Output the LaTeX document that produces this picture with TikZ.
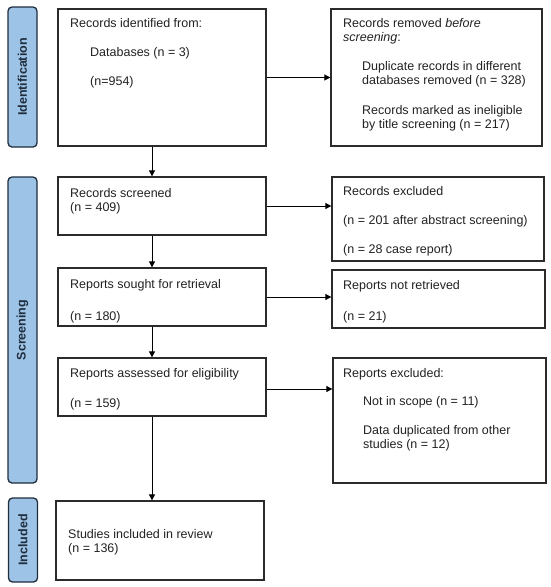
\documentclass[tikz,border=0pt]{standalone}
\usepackage{fontspec}
\setmainfont{Liberation Sans}
\usetikzlibrary{arrows.meta}
\definecolor{barfill}{HTML}{9DC3E6}
\definecolor{barline}{HTML}{1F2D3D}
\definecolor{boxline}{HTML}{2B2B2B}
\definecolor{txtcol}{HTML}{222222}
\begin{document}
\begin{tikzpicture}[x=1pt,y=-1pt,
  box/.style={draw=boxline,line width=1.3pt,fill=white,inner sep=0pt,text=txtcol},
  bar/.style={draw=barline,fill=barfill,line width=1.3pt,rounded corners=4pt,inner sep=0pt,minimum width=29pt},
  bartxt/.style={rotate=90,font=\fontsize{12.5}{14}\selectfont\bfseries,text=barline,inner sep=0pt},
  txt/.style={anchor=base west,inner sep=0pt,font=\fontsize{12.5}{14}\selectfont,text=txtcol},
  arr/.style={draw=black,line width=0.8pt,-{Triangle[length=6pt,width=6pt]}}]
\useasboundingbox (0,0) rectangle (550,587);
% phase bars
\node[bar,minimum height=140pt] (bid) at (22.5,77) {};
\node[bartxt] (tid) at (bid.center) {Identification};
\node[bar,minimum height=306pt] (bsc) at (22.5,330) {};
\node[bartxt] (tsc) at (bsc.center) {Screening};
\node[bar,minimum height=84pt] (bin) at (23,540) {};
\node[bartxt] (tin) at (bin.center) {Included};
% left boxes
\node[box,minimum width=208pt,minimum height=137pt] (id) at (162,77.5) {};
\node[txt] (t1) at (70,27.5) {Records identified from:};
\node[txt] (t2) at (90,56.5) {Databases (n = 3)};
\node[txt] (t3) at (90,85.5) {(n=954)};
\node[box,minimum width=208pt,minimum height=58pt] (scr) at (162,206) {};
\node[txt] (t4) at (70,197.5) {Records screened};
\node[txt] (t5) at (70,211.5) {(n = 409)};
\node[box,minimum width=208pt,minimum height=58pt] (sou) at (162,297) {};
\node[txt] (t6) at (70,288.5) {Reports sought for retrieval};
\node[txt] (t7) at (70,320.5) {(n = 180)};
\node[box,minimum width=208pt,minimum height=58pt] (ass) at (162,387) {};
\node[txt] (t8) at (70,377.5) {Reports assessed for eligibility};
\node[txt] (t9) at (70,407.5) {(n = 159)};
\node[box,minimum width=208pt,minimum height=79pt] (inc) at (160,540.5) {};
\node[txt] (t10) at (68,538.5) {Studies included in review};
\node[txt] (t11) at (68,552.5) {(n = 136)};
% right boxes
\node[box,minimum width=211pt,minimum height=137pt] (rem) at (436.5,77.5) {};
\node[txt] (r1) at (343,27.5) {Records removed \textit{before}};
\node[txt] (r2) at (343,41.5) {\textit{screening}:};
\node[txt] (r3) at (362,70.5) {Duplicate records in different};
\node[txt] (r4) at (362,84.5) {databases removed (n = 328)};
\node[txt] (r5) at (362,114.5) {Records marked as ineligible};
\node[txt] (r6) at (362,128.5) {by title screening (n = 217)};
\node[box,minimum width=212pt,minimum height=84pt] (exc) at (438,219) {};
\node[txt] (r7) at (343,195.5) {Records excluded};
\node[txt] (r8) at (343,224.5) {(n = 201 after abstract screening)};
\node[txt] (r9) at (343,253.5) {(n = 28 case report)};
\node[box,minimum width=213pt,minimum height=58pt] (nret) at (438.5,299) {};
\node[txt] (r10) at (343,289.5) {Reports not retrieved};
\node[txt] (r11) at (343,320.5) {(n = 21)};
\node[box,minimum width=213pt,minimum height=125pt] (rexc) at (439.5,420.5) {};
\node[txt] (r12) at (343,377.5) {Reports excluded:};
\node[txt] (r13) at (363,405.5) {Not in scope (n = 11)};
\node[txt] (r14) at (363,434.5) {Data duplicated from other};
\node[txt] (r15) at (363,448.5) {studies (n = 12)};
% vertical arrows
\draw[arr] ([xshift=-10pt]id.south) -- ([xshift=-10pt]scr.north);
\draw[arr] ([xshift=-10pt]scr.south) -- ([xshift=-10pt]sou.north);
\draw[arr] ([xshift=-10pt]sou.south) -- ([xshift=-10pt]ass.north);
\draw[arr] ([xshift=-10pt]ass.south) -- ([xshift=-10pt]ass.south |- inc.north);
% horizontal arrows
\draw[arr] (id.east) -- (id.east -| rem.west);
\draw[arr] (scr.east) -- (scr.east -| exc.west);
\draw[arr] (sou.east) -- (sou.east -| nret.west);
\draw[arr] ([yshift=-2pt]ass.east) -- ([yshift=-2pt]ass.east -| rexc.west);
\end{tikzpicture}
\end{document}
